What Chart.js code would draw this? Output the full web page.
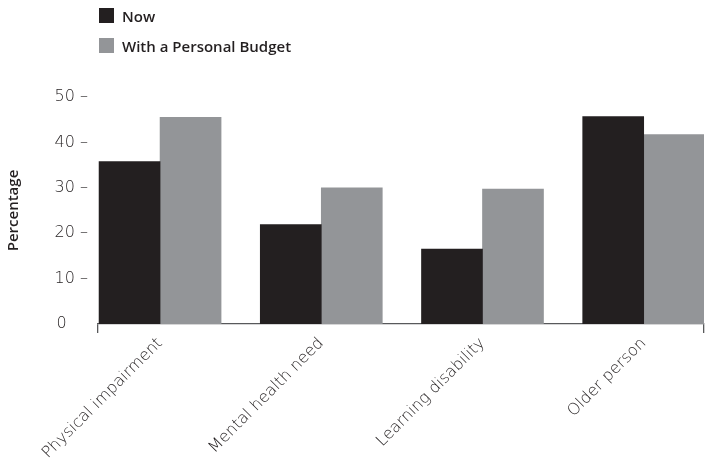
<!DOCTYPE html>
<html>
<head>
<meta charset="utf-8">
<script src="https://cdn.jsdelivr.net/npm/chart.js@4"></script>
<style>
  html, body { margin: 0; padding: 0; background: #fff; }
  #wrap { position: relative; width: 706px; height: 458px; }
  #legend { position: absolute; left: 99px; top: 8px; font-family: "Open Sans", sans-serif; font-weight: 600; font-size: 15px; color: #231f20; }
  #legend .item { display: flex; align-items: center; height: 15px; margin-bottom: 15px; }
  #legend .swatch { width: 15px; height: 15px; margin-right: 8px; }
</style>
</head>
<body>
<div id="wrap">
  <canvas id="chart" width="706" height="458"></canvas>
  <div id="legend"></div>
</div>
<script>
(function () {
    'use strict';

    var categories = ['Physical impairment', 'Mental health need', 'Learning disability', 'Older person'];
    var nowValues = [35.8, 21.9, 16.5, 45.7];
    var budgetValues = [45.5, 30, 29.7, 41.7];
    var yTicks = [0, 10, 20, 30, 40, 50];

    var ink = '#231f20';
    var axisGrey = '#58595b';
    var tickFont = 'DejaVu Sans';

    function toPoints(values) {
        return values.map(function (v, i) {
            return { x: i, y: v };
        });
    }

    var chart = new Chart(document.getElementById('chart'), {
        type: 'bar',
        data: {
            datasets: [{
                label: 'Now',
                data: toPoints(nowValues),
                backgroundColor: ink,
                borderWidth: 0
            }, {
                label: 'With a Personal Budget',
                data: toPoints(budgetValues),
                backgroundColor: '#939598',
                borderWidth: 0
            }]
        },
        options: {
            responsive: false,
            animation: false,
            devicePixelRatio: 1,
            barThickness: 61,
            layout: {
                autoPadding: false,
                padding: { top: 97, right: 2, bottom: 0, left: 0 }
            },
            plugins: {
                legend: { display: false },
                tooltip: { enabled: false }
            },
            scales: {
                x: {
                    type: 'linear',
                    offset: false,
                    min: -0.385,
                    max: 3.374,
                    afterBuildTicks: function (axis) {
                        // caps at both ends of the axis, plus one tick per category
                        var ticks = [{ value: axis.min }];
                        categories.forEach(function (c, i) {
                            ticks.push({ value: i });
                        });
                        ticks.push({ value: axis.max });
                        axis.ticks = ticks;
                    },
                    afterFit: function (axis) {
                        axis.height = 134;
                        axis.paddingLeft = 0;
                        axis.paddingRight = 0;
                    },
                    border: { display: true, color: axisGrey, width: 1.3 },
                    grid: {
                        offset: false,
                        drawOnChartArea: false,
                        drawTicks: true,
                        tickLength: 9,
                        lineWidth: 1.3,
                        color: function (ctx) {
                            var v = ctx.tick ? ctx.tick.value : 0;
                            return Number.isInteger(v) ? 'rgba(0,0,0,0)' : axisGrey;
                        }
                    },
                    ticks: {
                        autoSkip: false,
                        minRotation: 45,
                        maxRotation: 45,
                        padding: 1,
                        color: ink,
                        font: { family: tickFont, weight: '300', size: 16 },
                        callback: function (value) {
                            return Number.isInteger(value) ? (categories[value] || '') : '';
                        }
                    }
                },
                y: {
                    min: 0,
                    max: 50,
                    afterBuildTicks: function (axis) {
                        axis.ticks = yTicks.map(function (v) {
                            return { value: v };
                        });
                    },
                    afterFit: function (axis) {
                        axis.width = 98;
                    },
                    border: { display: false },
                    grid: { display: false, drawTicks: false },
                    ticks: {
                        padding: 10,
                        color: ink,
                        font: { family: tickFont, weight: '300', size: 16 },
                        callback: function (value) {
                            // zero has no dash, keep it roughly under the other numbers
                            return value === 0 ? '0\u2002\u2002\u2004' : value + ' \u2013';
                        }
                    },
                    title: {
                        display: true,
                        text: 'Percentage',
                        color: ink,
                        padding: { top: 5, bottom: 0 },
                        font: { family: 'Open Sans', weight: '600', size: 15 }
                    }
                }
            }
        }
    });

    // legend stacked one item per line above the plot
    var legendEl = document.getElementById('legend');
    chart.data.datasets.forEach(function (ds) {
        var item = document.createElement('div');
        item.className = 'item';
        var swatch = document.createElement('span');
        swatch.className = 'swatch';
        swatch.style.background = ds.backgroundColor;
        var text = document.createElement('span');
        text.textContent = ds.label;
        item.appendChild(swatch);
        item.appendChild(text);
        legendEl.appendChild(item);
    });
})();
</script>
</body>
</html>
